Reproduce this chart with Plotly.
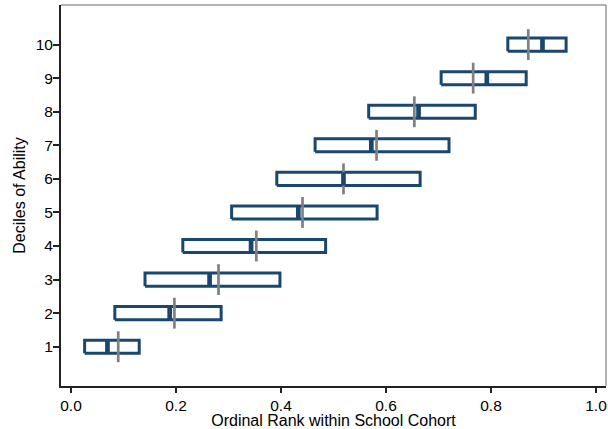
import plotly.graph_objects as go

deciles = [1, 2, 3, 4, 5, 6, 7, 8, 9, 10]
box_low = [0.026, 0.0835, 0.141, 0.213, 0.306, 0.392, 0.465, 0.567, 0.705, 0.832]
box_high = [0.130, 0.286, 0.398, 0.485, 0.583, 0.665, 0.720, 0.770, 0.867, 0.943]
medians = [0.0695, 0.188, 0.264, 0.343, 0.433, 0.519, 0.572, 0.662, 0.792, 0.898]
means = [0.090, 0.197, 0.281, 0.353, 0.441, 0.519, 0.582, 0.654, 0.766, 0.871]
x_ticks = [0.0, 0.2, 0.4, 0.6, 0.8, 1.0]
x_tick_labels = ["0.0", "0.2", "0.4", "0.6", "0.8", "1.0"]

NAVY = "#1a476f"
GRAY = "#808080"
bh = 0.195   # half box height (data units)
mh = 0.46    # half mean-line height

bx, by = [], []
for d, lo, hi in zip(deciles, box_low, box_high):
    bx += [lo, hi, hi, lo, lo, None]
    by += [d - bh, d - bh, d + bh, d + bh, d - bh, None]

gx, gy = [], []
for d, m in zip(deciles, means):
    gx += [m, m, None]
    gy += [d - mh, d + mh, None]

mx, my = [], []
for d, m in zip(deciles, medians):
    mx += [m, m, None]
    my += [d - bh, d + bh, None]

fig = go.Figure()
fig.add_trace(go.Scatter(x=bx, y=by, mode="lines", fill="toself", fillcolor="white",
                         line=dict(color=NAVY, width=3), hoverinfo="skip", showlegend=False))
fig.add_trace(go.Scatter(x=gx, y=gy, mode="lines", line=dict(color=GRAY, width=2.7),
                         showlegend=False))
fig.add_trace(go.Scatter(x=mx, y=my, mode="lines", line=dict(color=NAVY, width=4.7),
                         showlegend=False))

tick_font = dict(family="Liberation Sans", size=15.5, color="black")
title_font = dict(family="Liberation Sans", size=16, color="black")
fig.update_layout(
    width=608, height=429,
    margin=dict(l=61, r=2, t=5, b=43),
    plot_bgcolor="white", paper_bgcolor="white",
    font=tick_font,
    xaxis=dict(range=[-0.019, 1.019], tickvals=x_ticks, ticktext=x_tick_labels,
               showgrid=False, zeroline=False, showline=True, linecolor="#222222",
               linewidth=2, ticks="outside", ticklen=5, tickwidth=1.5, tickcolor="#222222",
               tickfont=tick_font, ticklabelstandoff=-1,
               title=dict(text="Ordinal Rank within School Cohort", standoff=0, font=title_font)),
    yaxis=dict(range=[-0.17, 11.18], tickvals=deciles, showgrid=False, zeroline=False,
               showline=True, linecolor="#222222", linewidth=2,
               ticks="outside", ticklen=6, tickwidth=1.5, tickcolor="#222222",
               tickfont=tick_font, ticklabelstandoff=-3,
               title=dict(text="Deciles of Ability", standoff=6, font=title_font)),
    shapes=[
        dict(type="line", xref="paper", yref="paper", x0=0, x1=1, y0=1, y1=1,
             line=dict(color="#666666", width=1)),
        dict(type="line", xref="paper", yref="paper", x0=1, x1=1, y0=0, y1=1,
             line=dict(color="#666666", width=1)),
    ],
)
fig.write_html("out.html", config={"displayModeBar": False},
               post_script="document.body.style.margin='0';")
